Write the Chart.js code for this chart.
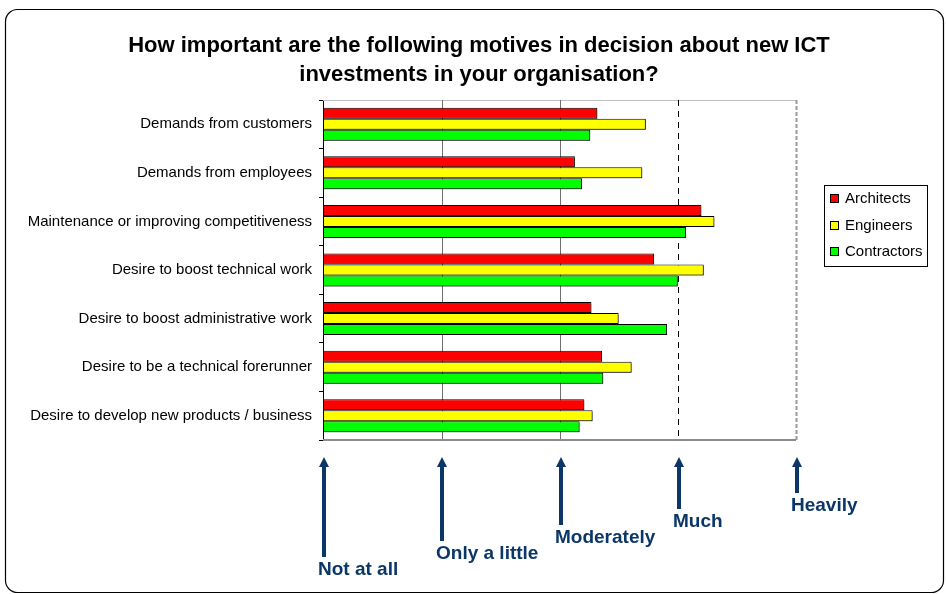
<!DOCTYPE html>
<html><head><meta charset="utf-8">
<script src="https://cdn.jsdelivr.net/npm/chart.js@4/dist/chart.umd.min.js"></script>
<style>html,body{margin:0;padding:0;background:#fff;}#wrap{width:946px;height:594px;}</style>
</head><body><div id="wrap"><canvas id="c" width="946" height="594"></canvas></div>
<script>
const titleLines = ["How important are the following motives in decision about new ICT", "investments in your organisation?"];
const categories = ["Demands from customers", "Demands from employees", "Maintenance or improving competitiveness", "Desire to boost technical work", "Desire to boost administrative work", "Desire to be a technical forerunner", "Desire to develop new products / business"];
const seriesNames = ["Architects", "Engineers", "Contractors"];
const architects = [3.32, 3.13, 4.20, 3.80, 3.27, 3.36, 3.21];
const engineers = [3.73, 3.70, 4.31, 4.22, 3.50, 3.61, 3.28];
const contractors = [3.26, 3.19, 4.07, 4.00, 3.91, 3.37, 3.17];
const scaleValues = [1, 2, 3, 4, 5];
const scaleLabels = ["Not at all", "Only a little", "Moderately", "Much", "Heavily"];

const seriesColors = ["#FF0000", "#FFFF00", "#00FF00"];
const FONT = "'Liberation Sans', Arial, sans-serif";
const NAVY = "#0b3668";

const decor = {
  id: 'decor',
  beforeDatasetsDraw(chart) {
    const {ctx, chartArea: a, scales: {x}} = chart;
    ctx.save();
    const vline = (px, color, dash, w) => {
      ctx.beginPath(); ctx.setLineDash(dash); ctx.strokeStyle = color; ctx.lineWidth = w;
      ctx.moveTo(px, a.top); ctx.lineTo(px, a.bottom); ctx.stroke();
    };
    ctx.beginPath(); ctx.setLineDash([]); ctx.strokeStyle = '#c0c0c0'; ctx.lineWidth = 1;
    ctx.moveTo(a.left, a.top + 0.5); ctx.lineTo(a.right, a.top + 0.5); ctx.stroke();
    vline(Math.round(x.getPixelForValue(2)) + 1.5, '#6f6f6f', [], 1);
    vline(Math.round(x.getPixelForValue(3)) + 0.5, '#6f6f6f', [], 1);
    vline(Math.round(x.getPixelForValue(4)) + 0.5, '#000000', [6, 5], 1);
    vline(Math.round(x.getPixelForValue(5)) + 0.5, '#9a9a9a', [4, 2], 2);
    ctx.beginPath(); ctx.setLineDash([]); ctx.strokeStyle = '#8c8c8c'; ctx.lineWidth = 2;
    ctx.moveTo(a.left, a.bottom); ctx.lineTo(a.right, a.bottom); ctx.stroke();
    ctx.restore();
    ctx.save();
    ctx.shadowColor = 'rgba(0,0,0,0.35)';
    ctx.shadowOffsetX = 1.5; ctx.shadowOffsetY = 1.5; ctx.shadowBlur = 0;
  },
  afterDatasetsDraw(chart) {
    chart.ctx.restore();
  },
  afterDraw(chart) {
    const {ctx, scales: {x}} = chart;
    ctx.save();
    ctx.beginPath(); ctx.strokeStyle = '#000'; ctx.lineWidth = 1.2;
    ctx.roundRect(5.5, 9.5, 938, 583, 12); ctx.stroke();
    ctx.fillStyle = '#000'; ctx.font = "bold 22px " + FONT;
    ctx.textAlign = 'center'; ctx.textBaseline = 'middle';
    titleLines.forEach((t, i) => ctx.fillText(t, 479, 46 + i * 29));
    ctx.strokeStyle = '#000'; ctx.lineWidth = 1;
    ctx.strokeRect(824.5, 185.5, 103, 81);
    ctx.font = "15px " + FONT; ctx.textAlign = 'left';
    chart.data.datasets.forEach((ds, i) => {
      const cy = 198 + i * 26.5;
      ctx.fillStyle = ds.backgroundColor;
      ctx.fillRect(830.5, Math.round(cy) - 3.5, 8, 8);
      ctx.strokeRect(830.5, Math.round(cy) - 3.5, 8, 8);
      ctx.fillStyle = '#000';
      ctx.fillText(ds.label, 845, cy + 1);
    });
    ctx.fillStyle = NAVY; ctx.strokeStyle = NAVY;
    ctx.font = "bold 19px " + FONT; ctx.textBaseline = 'alphabetic';
    scaleValues.forEach((v, i) => {
      const px = Math.round(x.getPixelForValue(v)) + 1;
      const bottom = 557 - i * 16;
      ctx.fillRect(px - 2, 465, 4, bottom - 465);
      ctx.beginPath();
      ctx.moveTo(px, 457); ctx.lineTo(px + 5, 467); ctx.lineTo(px - 5, 467); ctx.closePath(); ctx.fill();
      ctx.fillText(scaleLabels[i], px - 6, bottom + 18);
    });
    ctx.restore();
  }
};

new Chart(document.getElementById('c'), {
  type: 'bar',
  data: {
    labels: categories,
    datasets: [
      {label: seriesNames[0], data: architects, backgroundColor: seriesColors[0]},
      {label: seriesNames[1], data: engineers, backgroundColor: seriesColors[1]},
      {label: seriesNames[2], data: contractors, backgroundColor: seriesColors[2]}
    ]
  },
  options: {
    indexAxis: 'y',
    responsive: false,
    animation: false,
    devicePixelRatio: 1,
    layout: {padding: {left: 0, right: 150, top: 100, bottom: 154}},
    datasets: {bar: {borderColor: '#000', borderWidth: 1, categoryPercentage: 0.68, barPercentage: 1, base: 1, borderSkipped: false}},
    scales: {
      x: {type: 'linear', min: 1, max: 5, display: false},
      y: {
        type: 'category',
        offset: true,
        afterFit(s) { s.width = 323; },
        grid: {drawOnChartArea: false, offset: true, tickLength: 4, color: '#000', tickColor: '#000'},
        border: {color: '#000', width: 1},
        ticks: {color: '#000', padding: 7, font: {family: FONT, size: 15}}
      }
    },
    plugins: {legend: {display: false}, title: {display: false}, tooltip: {enabled: false}}
  },
  plugins: [decor]
});
</script></body></html>
